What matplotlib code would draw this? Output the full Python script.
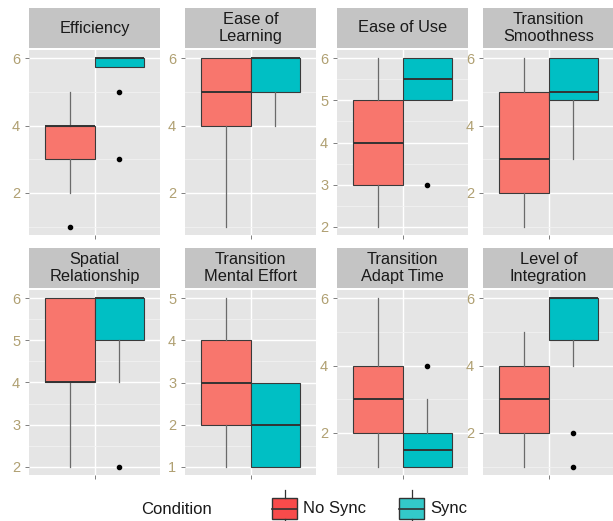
import matplotlib.pyplot as plt
from matplotlib.patches import Rectangle

plt.rcParams['font.family'] = ['Liberation Sans', 'DejaVu Sans']

# Questionnaire items, one facet each
facets = ["Efficiency", "Ease of\nLearning", "Ease of Use", "Transition\nSmoothness",
          "Spatial\nRelationship", "Transition\nMental Effort", "Transition\nAdapt Time",
          "Level of\nIntegration"]

# Box statistics for the "No Sync" condition
nosync_whislo = [2, 1, 2, 1, 2, 1, 1, 1]
nosync_q1 = [3, 4, 3, 2, 4, 2, 2, 2]
nosync_med = [4, 5, 4, 3, 4, 3, 3, 3]
nosync_q3 = [4, 6, 5, 5, 6, 4, 4, 4]
nosync_whishi = [5, 6, 6, 6, 6, 5, 6, 5]
nosync_fliers = [[1], [], [], [], [], [], [], []]

# Box statistics for the "Sync" condition
sync_whislo = [5.75, 4, 5, 3, 4, 1, 1, 4]
sync_q1 = [5.75, 5, 5, 4.75, 5, 1, 1, 4.75]
sync_med = [6, 6, 5.5, 5, 6, 2, 1.5, 6]
sync_q3 = [6, 6, 6, 6, 6, 3, 2, 6]
sync_whishi = [6, 6, 6, 6, 6, 3, 3, 6]
sync_fliers = [[5, 3], [], [3], [], [2], [], [4], [2, 1]]

y_breaks = [[2, 4, 6], [2, 4, 6], [2, 3, 4, 5, 6], [2, 4, 6],
            [2, 3, 4, 5, 6], [1, 2, 3, 4, 5], [2, 4, 6], [2, 4, 6]]

conditions = ["No Sync", "Sync"]
fill_colors = ["#F8766D", "#00BFC4"]
key_colors = ["#F84B4B", "#33C9C9"]

W, H = 613, 521
fig = plt.figure(figsize=(W / 100, H / 100), dpi=100)


def px_axes(left, top, width, height):
    return fig.add_axes([left / W, 1 - (top + height) / H, width / W, height / H])


col_left = [29, 185, 337, 483]
row_top = [50, 290]
panel_w, panel_h = 131, 185
strip_h = 40

tick_color = "#7F7F7F"
label_color = "#B0A072"

for i, name in enumerate(facets):
    r, c = divmod(i, 4)
    ax = px_axes(col_left[c], row_top[r], panel_w, panel_h)
    ax.set_facecolor("#E5E5E5")

    stats = [
        dict(med=nosync_med[i], q1=nosync_q1[i], q3=nosync_q3[i],
             whislo=nosync_whislo[i], whishi=nosync_whishi[i], fliers=nosync_fliers[i]),
        dict(med=sync_med[i], q1=sync_q1[i], q3=sync_q3[i],
             whislo=sync_whislo[i], whishi=sync_whishi[i], fliers=sync_fliers[i]),
    ]
    res = ax.bxp(stats, positions=[0.8125, 1.1875], widths=0.375, patch_artist=True,
                 showcaps=False,
                 boxprops=dict(edgecolor="#3A3A3A", linewidth=0.8),
                 medianprops=dict(color="#333333", linewidth=1.4),
                 whiskerprops=dict(color="#6A6A6A", linewidth=0.9),
                 flierprops=dict(marker="o", markerfacecolor="black",
                                 markeredgecolor="black", markersize=3, linestyle="none"))
    for box, col in zip(res["boxes"], fill_colors):
        box.set_facecolor(col)

    # y range from data with 5% padding
    vals = stats[0]["fliers"] + stats[1]["fliers"] + [s["whislo"] for s in stats] + [s["whishi"] for s in stats]
    lo, hi = min(vals), max(vals)
    pad = (hi - lo) * 0.05
    ax.set_ylim(lo - pad, hi + pad)
    ax.set_xlim(0.5, 1.5)

    breaks = y_breaks[i]
    step = breaks[1] - breaks[0]
    minors = [b - step / 2 for b in breaks] + [breaks[-1] + step / 2]
    minors = [m for m in minors if lo - pad <= m <= hi + pad]
    ax.set_yticks(breaks)
    ax.set_yticklabels([str(b) for b in breaks])
    ax.set_yticks(minors, minor=True)
    ax.set_xticks([1])
    ax.set_xticklabels([""])

    ax.set_axisbelow(True)
    ax.grid(which="major", color="white", linewidth=1.0)
    ax.grid(which="minor", axis="y", color="#F2F2F2", linewidth=0.6)
    ax.tick_params(which="major", length=3.2, width=0.7, color=tick_color,
                   labelsize=10.5, labelcolor=label_color, pad=3.2)
    ax.tick_params(which="minor", length=0)
    for s in ax.spines.values():
        s.set_visible(False)

    sax = px_axes(col_left[c], row_top[r] - strip_h - 2, panel_w, strip_h)
    sax.set_facecolor("#C4C4C4")
    sax.set_xticks([])
    sax.set_yticks([])
    for s in sax.spines.values():
        s.set_visible(False)
    sax.text(0.5, 0.5, name, ha="center", va="center", fontsize=11.8,
             color="#1A1A1A", transform=sax.transAxes, linespacing=1.15)

# Legend drawn along the bottom edge
lax = fig.add_axes([0, 0, 1, 48 / H])
lax.set_xlim(0, W)
lax.set_ylim(0, 48)
lax.axis("off")
lax.text(141, 12, "Condition", ha="left", va="center", fontsize=12, color="#1A1A1A")
key_x = [272, 399]
for x0, col, lab in zip(key_x, key_colors, conditions):
    lax.plot([x0 + 12.5, x0 + 12.5], [23, 31], color="#333333", linewidth=0.9)
    lax.plot([x0 + 12.5, x0 + 12.5], [0, 2], color="#333333", linewidth=0.9)
    lax.add_patch(Rectangle((x0, 2), 25, 21, facecolor=col, edgecolor="#333333", linewidth=1.0))
    lax.plot([x0, x0 + 25], [12.5, 12.5], color="#333333", linewidth=1.2)
    lax.text(x0 + 31, 12, lab, ha="left", va="center", fontsize=12, color="#1A1A1A")

fig.savefig("out.png", dpi=100)
